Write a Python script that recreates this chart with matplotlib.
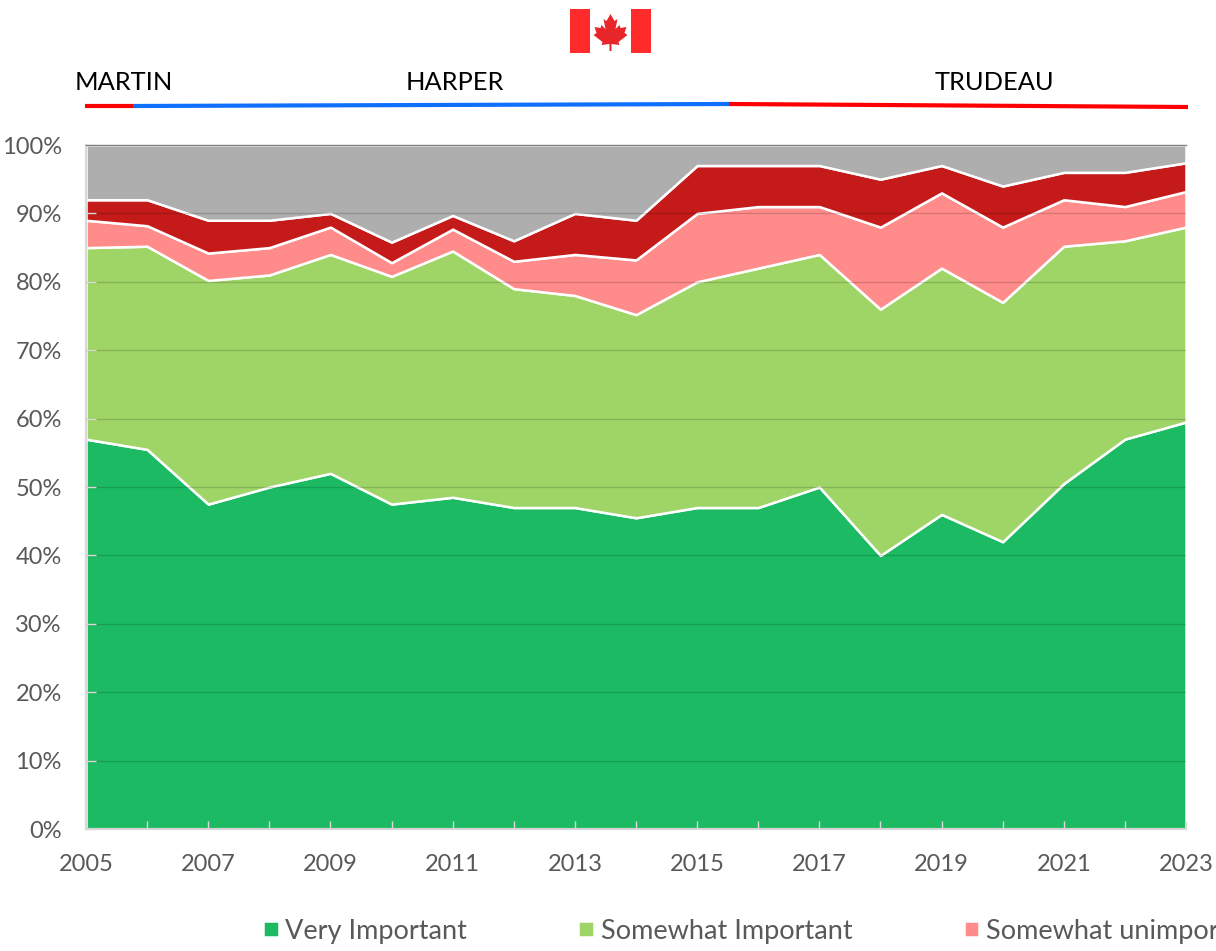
#!/usr/bin/env python3
import matplotlib
matplotlib.use('Agg')
import matplotlib.pyplot as plt
from matplotlib.patches import Rectangle, Polygon
import numpy as np

plt.rcParams['font.family'] = ['Lato', 'DejaVu Sans']

years = list(range(2005, 2024))
very = [57, 55.5, 47.5, 50, 52, 47.5, 48.5, 47, 47, 45.5, 47, 47, 50, 40, 46, 42, 50.5, 57, 59.5]
somewhat = [28, 29.7, 32.7, 31, 32, 33.3, 36, 32, 31, 29.7, 33, 35, 34, 36, 36, 35, 34.7, 29, 28.5]
unimportant = [4, 3, 4, 4, 4, 2, 3.2, 4, 6, 8, 10, 9, 7, 12, 11, 11, 6.8, 5, 5.2]
notimportant = [3, 3.8, 4.8, 4, 2, 3, 2, 3, 6, 5.8, 7, 6, 6, 7, 4, 6, 4, 5, 4.2]
dontknow = [8, 8, 11, 11, 10, 14.2, 10.3, 14, 10, 11, 3, 3, 3, 5, 3, 6, 4, 4, 2.6]
labels = ['Very Important', 'Somewhat Important', 'Somewhat unimportant', 'Not important', "Don't know"]
colors = ['#1CBA63', '#9FD566', '#FF8B8B', '#C51A1A', '#AEAEAE']
leaders = ['MARTIN', 'HARPER', 'TRUDEAU']
leader_x = [124, 455, 994]
leader_line_x = [85, 133, 729, 1188]
leader_line_y = [106, 106, 104, 107]
leader_cols = ['#FF0000', '#0F6FFF', '#FF0000']

W, H = 1216, 951
txtcol = '#595959'
fntsz = 17

fig = plt.figure(figsize=(W / 100, H / 100), dpi=100)
ax = fig.add_axes([86 / W, 1 - 829 / H, 1100 / W, 684 / H])

polys = ax.stackplot(years, very, somewhat, unimportant, notimportant, dontknow,
                     colors=colors, labels=labels, edgecolor='white', linewidth=1.8)
for p in polys:
    p.set_zorder(1)

ax.set_xlim(2005, 2023)
ax.set_ylim(0, 100)
ax.set_yticks(np.arange(0, 101, 10))
ax.set_yticklabels([f'{v}%' for v in range(0, 101, 10)], fontsize=fntsz, color=txtcol)
ax.set_xticks(years)
ax.set_xticklabels([str(y) if y % 2 == 1 else '' for y in years], fontsize=fntsz, color=txtcol)
ax.tick_params(axis='x', direction='in', length=6, width=1, color='#D9D9D9', pad=18)
ax.tick_params(axis='y', direction='in', length=7, width=1, color='#D9D9D9', pad=17.5)
ax.grid(axis='y', color='#000000', alpha=0.16, linewidth=1)
ax.set_axisbelow(False)
for s in ['top', 'right']:
    ax.spines[s].set_visible(False)
for s in ['left', 'bottom']:
    ax.spines[s].set_color('#D9D9D9')
    ax.spines[s].set_linewidth(1.6)
ax.plot([2005, 2023], [100, 100], color='#808080', lw=1, clip_on=False, zorder=3)

# legend runs off the right side like in the source screenshot
ax.legend(loc='upper left', bbox_to_anchor=(177 / 1100, -0.131), ncol=5, frameon=False,
          fontsize=19.5, labelcolor=txtcol, handlelength=0.58, handleheight=0.58,
          handletextpad=0.25, columnspacing=4.1, borderaxespad=0, borderpad=0)

# overlay in pixel coords for the header bits
top = fig.add_axes([0, 0, 1, 1], facecolor='none')
top.set_xlim(0, W)
top.set_ylim(H, 0)
top.axis('off')
for name, x in zip(leaders, leader_x):
    top.text(x, 83, name, ha='center', va='center', fontsize=18.3, color='black')
for i, c in enumerate(leader_cols):
    top.plot(leader_line_x[i:i + 2], leader_line_y[i:i + 2], color=c, lw=3, solid_capstyle='butt')

# flag
top.add_patch(Rectangle((570, 9), 20, 44, color='#FF2A2A', lw=0))
top.add_patch(Rectangle((631, 9), 20, 44, color='#FF2A2A', lw=0))
leaf = np.array([[0, -17], [-4, -10], [-7, -12], [-5, -2], [-9, -6], [-10, -3], [-16, -4], [-14, 2],
                 [-17, 4], [-8, 11], [-9, 14], [-1, 13], [-1, 20], [1, 20], [1, 13], [9, 14],
                 [8, 11], [17, 4], [14, 2], [16, -4], [10, -3], [9, -6], [5, -2], [7, -12], [4, -10]])
top.add_patch(Polygon(leaf + [610.5, 31], closed=True, color='#E8262A', lw=0))

fig.savefig('out.png', dpi=100)
